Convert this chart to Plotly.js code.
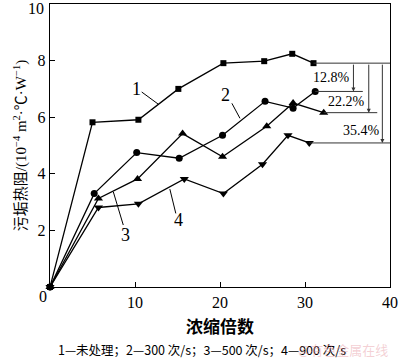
<!DOCTYPE html>
<html><head><meta charset="utf-8">
<script src="https://cdn.plot.ly/plotly-3.0.1.min.js"></script>
<style>body{margin:0;background:#fff}#c{width:400px;height:362px}</style>
</head><body><div id="c"></div>
<script>
// Data
const x1 = [0, 5.0, 10.4, 15.1, 20.4, 25.2, 28.5, 31.0];
const y1 = [0, 5.82, 5.91, 7.0, 7.91, 7.98, 8.24, 7.91];
const x2 = [0, 5.2, 10.2, 15.2, 20.3, 25.3, 28.6, 31.2];
const y2 = [0, 3.30, 4.75, 4.55, 5.36, 6.56, 6.32, 6.91];
const x3 = [0, 5.7, 10.3, 15.6, 20.3, 25.5, 28.6, 32.2];
const y3 = [0, 3.13, 3.82, 5.42, 4.60, 5.68, 6.50, 6.16];
const x4 = [0, 5.7, 10.4, 15.8, 20.4, 25.0, 28.0, 30.5];
const y4 = [0, 2.81, 2.94, 3.82, 3.30, 4.34, 5.36, 5.09];
const seriesLabels = ["1", "2", "3", "4"];
const pctLabels = ["12.8%", "22.2%", "35.4%"];
const xTicks = [10, 20, 30, 40];
const yTicks = [2, 4, 6, 8, 10];
const legendText = "1—未处理；2—300 次/s；3—500 次/s；4—900 次/s";

const serif = "Liberation Serif";
function tr(x, y, sym, sz) {
  return {x: x, y: y, mode: "lines+markers", type: "scatter",
    line: {color: "#000", width: 1.3},
    marker: {symbol: sym, size: sz, color: "#000"},
    cliponaxis: false, hoverinfo: "skip"};
}
const data = [
  tr(x1, y1, "square", 6),
  tr(x2, y2, "circle", 7),
  tr(x3, y3, "triangle-up", 8),
  tr(x4, y4, "triangle-down", 8)
];

const gray = {color: "#333", width: 1};
const last = a => a[a.length - 1];
const yBase = last(y1);
const ends = [[last(x2), last(y2), 36.8, 35.7], [last(x3), last(y3), 38.5, 37.5], [last(x4), last(y4), 40, 39.1]];
const shapes = [
  {type: "line", xref: "x", yref: "y", x0: last(x1), x1: 40, y0: yBase, y1: yBase, line: gray}
];
const annotations = [];
ends.forEach((e, i) => {
  shapes.push({type: "line", xref: "x", yref: "y", x0: e[0], x1: e[2], y0: e[1], y1: e[1], line: gray});
  annotations.push({x: e[3], y: e[1], ax: e[3], ay: yBase, xref: "x", yref: "y", axref: "x", ayref: "y",
    showarrow: true, arrowhead: 2, arrowsize: 0.8, arrowwidth: 1, arrowcolor: "#333", text: ""});
});
const pctPos = [[33.06, 7.4], [34.9, 6.55], [36.7, 5.53]];
pctLabels.forEach((t, i) => annotations.push({x: pctPos[i][0], y: pctPos[i][1], xref: "x", yref: "y",
  text: t, showarrow: false, font: {family: serif, size: 14, color: "#000"}}));

// series number labels with leader lines
const lab = [[10.2, 7.01, 10.79, 6.89, 12.74, 6.46], [20.6, 6.77, 21.4, 6.49, 22.35, 5.96],
             [8.94, 1.83, 8.62, 2.19, 7.45, 3.36], [15.1, 2.36, 14.8, 2.6, 14.1, 3.46]];
lab.forEach((l, i) => {
  annotations.push({x: l[0], y: l[1], xref: "x", yref: "y", text: seriesLabels[i], showarrow: false,
    font: {family: serif, size: 18, color: "#000"}});
  shapes.push({type: "line", xref: "x", yref: "y", x0: l[2], y0: l[3], x1: l[4], y1: l[5], line: {color: "#000", width: 1}});
});
annotations.push({x: 0, y: 0, xref: "paper", yref: "paper", xshift: -7, yshift: -9,
  xanchor: "center", yanchor: "middle", text: "0", showarrow: false,
  font: {family: serif, size: 16, color: "#000"}});
annotations.push({x: 0, y: 1, xref: "paper", yref: "paper", xshift: -4, yshift: -4,
  xanchor: "right", yanchor: "middle", text: String(yTicks[yTicks.length - 1]), showarrow: false,
  font: {family: serif, size: 16, color: "#000"}});
annotations.push({x: 0.447, y: 0, yshift: -62, xref: "paper", yref: "paper", xanchor: "center", yanchor: "middle",
  text: legendText, showarrow: false,
  font: {family: "Noto Sans CJK SC", size: 12.5, color: "#000"}});
annotations.push({x: 1.0, y: 0, yshift: -62, xref: "paper", yref: "paper", xanchor: "right", yanchor: "middle",
  text: "@有色金属在线", showarrow: false,
  font: {family: "Noto Sans CJK SC", size: 13, color: "rgba(230,150,160,0.45)"}});

const layout = {
  width: 400, height: 362,
  margin: {l: 50, r: 10, t: 4, b: 75},
  paper_bgcolor: "#fff", plot_bgcolor: "#fff",
  showlegend: false,
  font: {family: serif, color: "#000"},
  xaxis: {range: [0, 40], tickvals: xTicks, ticks: "inside", ticklen: 5, tickcolor: "#000",
    showline: true, linecolor: "#000", linewidth: 1.3, mirror: true, showgrid: false, zeroline: false,
    tickfont: {family: serif, size: 16, color: "#000"},
    title: {text: "<b>浓缩倍数</b>", font: {family: "Noto Sans CJK SC", size: 17, color: "#000"}, standoff: 11}},
  yaxis: {range: [0, 10], tickvals: yTicks.slice(0, -1), ticks: "inside", ticklen: 5, tickcolor: "#000",
    showline: true, linecolor: "#000", linewidth: 1.3, mirror: true, showgrid: false, zeroline: false,
    tickfont: {family: serif, size: 16, color: "#000"},
    title: {text: "污垢热阻/(10<sup>−4</sup> m<sup>2</sup>·℃·W<sup>−1</sup>)", font: {family: "Liberation Serif, Noto Sans CJK SC", size: 15, color: "#000"}, standoff: 7}},
  shapes: shapes, annotations: annotations
};
Plotly.newPlot("c", data, layout, {staticPlot: true, displayModeBar: false});
</script></body></html>
